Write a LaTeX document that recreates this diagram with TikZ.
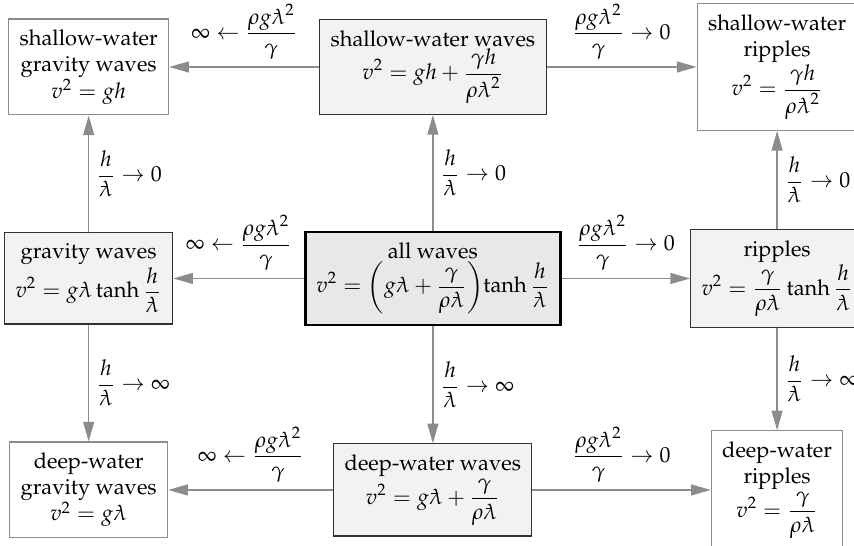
\documentclass[tikz,border=0pt]{standalone}
\usepackage[T1]{fontenc}
\usepackage{mathpazo}
\usepackage{amsmath}
\usepackage{tikz}
\usetikzlibrary{arrows.meta, positioning}
\newcommand{\lbar}{\mathord{\rlap{\kern0.1em\rule[0.46em]{0.3em}{0.045em}}\lambda}}
\tikzset{
  wavebox/.style={rectangle, draw=black!80, fill=black!5, align=center,
                  inner sep=5pt, line width=0.5pt},
  mainbox/.style={wavebox, draw=black, fill=black!9, line width=1.2pt},
  limitbox/.style={wavebox, draw=black!45, fill=white},
  arrow/.style={-{Triangle[length=9pt, width=5pt]}, draw=black!45, line width=0.6pt},
}

\begin{document}
\begin{tikzpicture}

  \useasboundingbox (-6.98,-4.31) rectangle (6.79,4.49);

  %% middle column
  \node[mainbox] (all) at (0,0)
    {all waves\\ $\displaystyle v^2=\left(g\lbar+\frac{\gamma}{\rho\lbar}\right)\mkern-3mu\tanh\frac{h}{\lbar}$};
  \node[wavebox] (shallow) at (0,3.41)
    {shallow-water waves\\ $\displaystyle v^2=gh+\frac{\gamma h}{\rho\lbar^2}$};
  \node[wavebox] (deep) at (0,-3.41)
    {deep-water waves\\ $\displaystyle v^2=g\lbar+\frac{\gamma}{\rho\lbar}$};

  %% side columns
  \node[wavebox] (gravity) at (-5.55,0)
    {gravity waves\\ $\displaystyle v^2=g\lbar\tanh\frac{h}{\lbar}$};
  \node[wavebox] (ripples) at (5.55,0)
    {ripples\\ $\displaystyle v^2=\frac{\gamma}{\rho\lbar}\tanh\frac{h}{\lbar}$};

  %% corners
  \node[limitbox] (swgravity) at (-5.55,3.41) {shallow-water\\ gravity waves\\ $v^2=gh$};
  \node[limitbox] (swripples) at (5.55,3.41)
    {shallow-water\\ ripples\\ $\displaystyle v^2=\frac{\gamma h}{\rho\lbar^2}$};
  \node[limitbox] (dwgravity) at (-5.55,-3.41) {deep-water\\ gravity waves\\ $v^2=g\lbar$};
  \node[limitbox] (dwripples) at (5.55,-3.41)
    {deep-water\\ ripples\\ $\displaystyle v^2=\frac{\gamma}{\rho\lbar}$};

  %% limits h/lambda
  \draw[arrow] (all) -- node[right] {$\displaystyle\frac{h}{\lbar}\to 0$} (shallow);
  \draw[arrow] (all) -- node[right] {$\displaystyle\frac{h}{\lbar}\to\infty$} (deep);
  \draw[arrow] (gravity) -- node[right] {$\displaystyle\frac{h}{\lbar}\to 0$} (swgravity);
  \draw[arrow] (gravity) -- node[right] {$\displaystyle\frac{h}{\lbar}\to\infty$} (dwgravity);
  \draw[arrow] (ripples) -- node[right] {$\displaystyle\frac{h}{\lbar}\to 0$} (swripples);
  \draw[arrow] (ripples) -- node[right] {$\displaystyle\frac{h}{\lbar}\to\infty$} (dwripples);

  %% limits rho g lambda^2 / gamma
  \foreach \from/\lft/\rgt in {shallow/swgravity/swripples, all/gravity/ripples, deep/dwgravity/dwripples} {
    \draw[arrow] (\from) -- node[above] {$\displaystyle\infty\leftarrow\frac{\rho g\lbar^2}{\gamma}$} (\lft);
    \draw[arrow] (\from) -- node[above] {$\displaystyle\frac{\rho g\lbar^2}{\gamma}\to 0$} (\rgt);
  }

\end{tikzpicture}
\end{document}
